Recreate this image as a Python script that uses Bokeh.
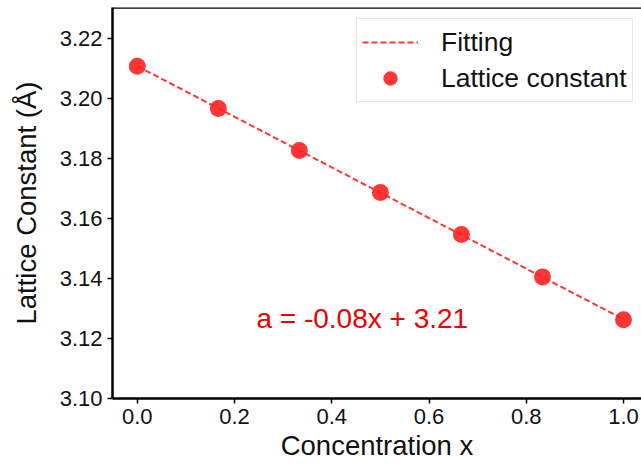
import numpy as np
from bokeh.plotting import figure
from bokeh.models import FixedTicker, NumeralTickFormatter, Span, Legend
from bokeh.core.properties import value
from bokeh.embed import file_html
from bokeh.resources import INLINE

# data
conc = [0.0, 1/6, 2/6, 3/6, 4/6, 5/6, 1.0]
lattice = [3.2106, 3.1966, 3.1826, 3.1686, 3.1546, 3.1405, 3.1262]
x_ticks = [0.0, 0.2, 0.4, 0.6, 0.8, 1.0]
y_ticks = [3.10, 3.12, 3.14, 3.16, 3.18, 3.20, 3.22]
eq_text = ["a = -0.08x + 3.21"]
eq_x = [0.245]
eq_y = [3.1267]

slope, intercept = np.polyfit(conc, lattice, 1)
fit_x = [0.0, 1.0]
fit_y = [intercept + slope * v for v in fit_x]

FONT = "Liberation Sans"
RED = "#ff2020"
Y_TOP = 3.2302

p = figure(width=641, height=466, output_backend="svg", toolbar_location=None,
           x_range=(-0.051, 1.037), y_range=(3.10, Y_TOP),
           min_border_left=112, min_border_right=0, min_border_top=7,
           min_border_bottom=68)
p.outline_line_color = None
p.xgrid.visible = False
p.ygrid.visible = False
p.background_fill_color = "white"
p.border_fill_color = "white"

fit_r = p.line(fit_x, fit_y, line_color=RED, line_alpha=0.9, line_width=2,
               line_dash="6 3")
pts_r = p.scatter(conc, lattice, size=17, fill_color=RED, fill_alpha=0.9,
                  line_color=None)

p.text(x=eq_x, y=eq_y, text=eq_text, text_color="#ee0000",
       text_font=value(FONT), text_font_size="28px",
       text_align="left", text_baseline="middle")

top = Span(location=Y_TOP, dimension="width", line_color="black", line_width=2.5)
p.add_layout(top)

for ax in (p.xaxis[0], p.yaxis[0]):
    ax.axis_line_color = "black"
    ax.axis_line_width = 2.5
    ax.major_tick_line_color = "black"
    ax.major_tick_line_width = 1.5
    ax.major_tick_out = 5
    ax.major_tick_in = 0
    ax.minor_tick_line_color = None
    ax.major_label_text_font = FONT
    ax.major_label_text_font_size = "22px"
    ax.major_label_text_color = "#111111"
    ax.axis_label_text_font = FONT
    ax.axis_label_text_font_size = "27.5px"
    ax.axis_label_text_font_style = "normal"
    ax.axis_label_text_color = "#111111"

p.xaxis.ticker = FixedTicker(ticks=x_ticks)
p.xaxis.formatter = NumeralTickFormatter(format="0.0")
p.xaxis.axis_label = "Concentration x"
p.xaxis.major_label_standoff = 5
p.xaxis.axis_label_standoff = 3

p.yaxis.ticker = FixedTicker(ticks=y_ticks)
p.yaxis.formatter = NumeralTickFormatter(format="0.00")
p.yaxis.axis_label = "Lattice Constant (Å)"
p.yaxis.major_label_standoff = 5
p.yaxis.axis_label_standoff = 15

legend = Legend(items=[("Fitting", [fit_r]), ("Lattice constant", [pts_r])],
                location=(244, 296), margin=0, padding=5, spacing=0,
                glyph_width=56, glyph_height=36, label_height=30,
                label_standoff=23,
                label_text_font=FONT, label_text_font_size="26.5px",
                label_text_color="#111111",
                border_line_color="#d0d0d0", border_line_width=1.2,
                background_fill_color="white", background_fill_alpha=0.9)
p.add_layout(legend, "center")

open("out.html", "w").write(file_html(p, INLINE))
